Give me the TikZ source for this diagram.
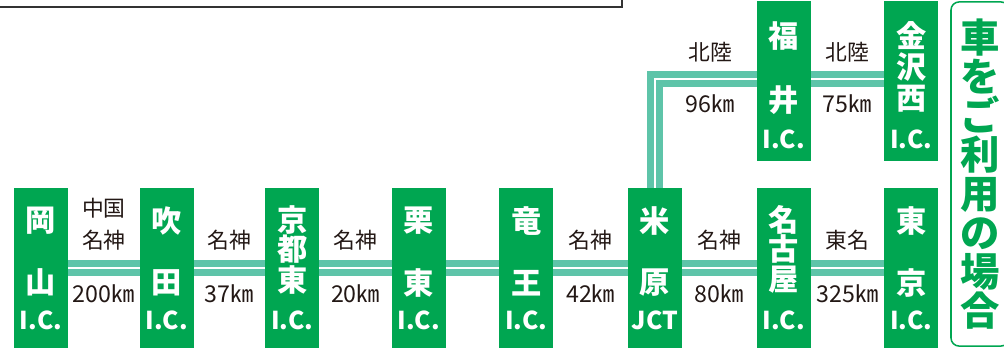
\documentclass[tikz,border=0pt]{standalone}
\usepackage{fontspec}
\newfontfamily\jpfont{Noto Sans CJK JP}
\usepackage{xcolor}
\usepackage{tikz}
\usetikzlibrary{positioning,calc,backgrounds}
\definecolor{icgreen}{RGB}{0,166,81}
\definecolor{roadteal}{RGB}{94,196,169}
\definecolor{labeldark}{RGB}{35,24,21}

\begin{document}
\begin{tikzpicture}[
    x=0.025cm, y=-0.025cm,
    node distance=0.65cm and 1.775cm,
    every node/.style={font=\jpfont, align=center, inner sep=0pt},
    icbox/.style={rectangle, fill=icgreen, minimum width=1.35cm, minimum height=4cm},
    kanji/.style={text=white, font=\jpfont\bfseries\fontsize{21.5}{21.5}\selectfont},
    ictag/.style={text=white, font=\jpfont\bfseries\fontsize{17.5}{17.5}\selectfont},
    route/.style={text=labeldark, anchor=south, font=\jpfont\fontsize{15.5}{22.8}\selectfont},
    dist/.style={text=labeldark, anchor=base, font=\jpfont\fontsize{16.5}{16.5}\selectfont},
    road/.style={draw=roadteal, line width=4.6pt, double=white, double distance=1.8pt, line join=miter},
    notebox/.style={rectangle, rounded corners=0.2cm, draw=icgreen, line width=1.1pt, minimum width=1.45cm, minimum height=8.6cm, text=icgreen, font=\jpfont\bfseries\fontsize{28}{27.8}\selectfont}
]
\useasboundingbox (0,0) rectangle (1004,348);
\clip (0,0) rectangle (1004,348);

% interchanges
\node[icbox] (okayama) at (41,268) {};
\node[icbox, right=of okayama] (suita) {};
\node[icbox, right=of suita] (kyotohigashi) {};
\node[icbox, right=1.8cm of kyotohigashi] (ritto) {};
\node[icbox, right=1.325cm of ritto] (ryuo) {};
\node[icbox, right=1.85cm of ryuo] (maibara) {};
\node[icbox, right=1.85cm of maibara] (nagoya) {};
\node[icbox, right=1.825cm of nagoya] (tokyo) {};
\node[icbox, above=of nagoya] (fukui) {};
\node[icbox, above=of tokyo] (kanazawa) {};

\node[kanji] (okayama-1) at ([yshift=-0.825cm]okayama.north) {岡};
\node[kanji] (okayama-2) at ([yshift=-2.375cm]okayama.north) {山};
\node[ictag] (okayama-3) at ([yshift=-3.325cm]okayama.north) {I.C.};
\node[kanji] (suita-1) at ([yshift=-0.825cm]suita.north) {吹};
\node[kanji] (suita-2) at ([yshift=-2.375cm]suita.north) {田};
\node[ictag] (suita-3) at ([yshift=-3.325cm]suita.north) {I.C.};
\node[kanji] (kyotohigashi-1) at ([yshift=-0.8cm]kyotohigashi.north) {京};
\node[kanji] (kyotohigashi-2) at ([yshift=-1.525cm]kyotohigashi.north) {都};
\node[kanji] (kyotohigashi-3) at ([yshift=-2.3cm]kyotohigashi.north) {東};
\node[ictag] (kyotohigashi-4) at ([yshift=-3.325cm]kyotohigashi.north) {I.C.};
\node[kanji] (ritto-1) at ([yshift=-0.825cm]ritto.north) {栗};
\node[kanji] (ritto-2) at ([yshift=-2.375cm]ritto.north) {東};
\node[ictag] (ritto-3) at ([yshift=-3.325cm]ritto.north) {I.C.};
\node[kanji] (ryuo-1) at ([yshift=-0.825cm]ryuo.north) {竜};
\node[kanji] (ryuo-2) at ([yshift=-2.375cm]ryuo.north) {王};
\node[ictag] (ryuo-3) at ([yshift=-3.325cm]ryuo.north) {I.C.};
\node[kanji] (maibara-1) at ([yshift=-0.825cm]maibara.north) {米};
\node[kanji] (maibara-2) at ([yshift=-2.375cm]maibara.north) {原};
\node[ictag] (maibara-3) at ([yshift=-3.325cm]maibara.north) {JCT};
\node[kanji] (nagoya-1) at ([yshift=-0.8cm]nagoya.north) {名};
\node[kanji] (nagoya-2) at ([yshift=-1.525cm]nagoya.north) {古};
\node[kanji] (nagoya-3) at ([yshift=-2.3cm]nagoya.north) {屋};
\node[ictag] (nagoya-4) at ([yshift=-3.325cm]nagoya.north) {I.C.};
\node[kanji] (tokyo-1) at ([yshift=-0.825cm]tokyo.north) {東};
\node[kanji] (tokyo-2) at ([yshift=-2.375cm]tokyo.north) {京};
\node[ictag] (tokyo-3) at ([yshift=-3.325cm]tokyo.north) {I.C.};
\node[kanji] (fukui-1) at ([yshift=-0.875cm]fukui.north) {福};
\node[kanji] (fukui-2) at ([yshift=-2.475cm]fukui.north) {井};
\node[ictag] (fukui-3) at ([yshift=-3.45cm]fukui.north) {I.C.};
\node[kanji] (kanazawa-1) at ([yshift=-0.85cm]kanazawa.north) {金};
\node[kanji] (kanazawa-2) at ([yshift=-1.65cm]kanazawa.north) {沢};
\node[kanji] (kanazawa-3) at ([yshift=-2.45cm]kanazawa.north) {西};
\node[ictag] (kanazawa-4) at ([yshift=-3.45cm]kanazawa.north) {I.C.};

% route names and distances
\node[route] (route-os) at ($(okayama)!0.5!(suita)+(0,-17)$) {中国\\名神};
\node[dist] (dist-os) at ($(okayama)!0.5!(suita)+(0,34)$) {200㎞};
\node[route] (route-sk) at ($(suita)!0.5!(kyotohigashi)+(0,-17)$) {名神};
\node[dist] (dist-sk) at ($(suita)!0.5!(kyotohigashi)+(0,34)$) {37㎞};
\node[route] (route-kr) at ($(kyotohigashi)!0.5!(ritto)+(0,-17)$) {名神};
\node[dist] (dist-kr) at ($(kyotohigashi)!0.5!(ritto)+(0,34)$) {20㎞};
\node[route] (route-rm) at ($(ryuo)!0.5!(maibara)+(0,-17)$) {名神};
\node[dist] (dist-rm) at ($(ryuo)!0.5!(maibara)+(0,34)$) {42㎞};
\node[route] (route-mn) at ($(maibara)!0.5!(nagoya)+(0,-17)$) {名神};
\node[dist] (dist-mn) at ($(maibara)!0.5!(nagoya)+(0,34)$) {80㎞};
\node[route] (route-nt) at ($(nagoya)!0.5!(tokyo)+(0,-17)$) {東名};
\node[dist] (dist-nt) at ($(nagoya)!0.5!(tokyo)+(0,34)$) {325㎞};
\node[route] (route-mf) at ($(fukui.west)+(-46,-19)$) {北陸};
\node[dist] (dist-mf) at ($(fukui.west)+(-46,31)$) {96㎞};
\node[route] (route-fk) at ($(fukui)!0.5!(kanazawa)+(0,-19)$) {北陸};
\node[dist] (dist-fk) at ($(fukui)!0.5!(kanazawa)+(0,31)$) {75㎞};

\node[notebox] (riyou) at (980,174) {車\\を\\ご\\利\\用\\の\\場\\合};

\begin{scope}[on background layer]
\draw[road] (okayama.center) -- (tokyo.center);
\draw[road] (maibara.center) |- ([yshift=1.8pt]kanazawa.center);
\draw[black!80, line width=0.8pt] (-10,7) -- (622,7) -- (622,-10);
\end{scope}

\end{tikzpicture}
\end{document}
